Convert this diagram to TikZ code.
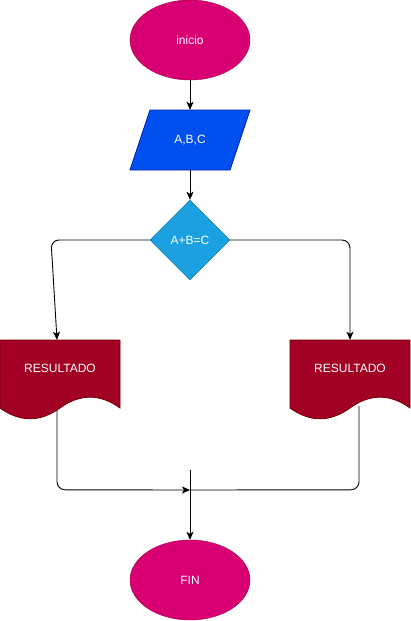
\documentclass[tikz,border=0pt]{standalone}
\usepackage{fontspec}
\setmainfont{Liberation Sans}
\usetikzlibrary{shapes.geometric,arrows.meta,calc}
\definecolor{magF}{HTML}{D80073}\definecolor{magS}{HTML}{A50040}
\definecolor{bluF}{HTML}{0050EF}\definecolor{bluS}{HTML}{001DBC}
\definecolor{cyaF}{HTML}{1BA1E2}\definecolor{cyaS}{HTML}{006EAF}
\definecolor{redF}{HTML}{A20025}\definecolor{redS}{HTML}{6F0000}
\tikzset{
  lbl/.style={text=white,font=\fontsize{12}{14}\selectfont},
  term/.style={ellipse,draw=magS,fill=magF,minimum width=120pt,minimum height=80pt,inner sep=0pt,lbl},
  dec/.style={diamond,draw=cyaS,fill=cyaF,minimum width=80pt,minimum height=80pt,inner sep=0pt,aspect=1,lbl},
  area/.style={rectangle,minimum width=100pt,minimum height=60pt,inner sep=0pt,lbl},
  docarea/.style={rectangle,minimum width=120pt,minimum height=80pt,inner sep=0pt},
  conn/.style={draw=black,line width=0.9pt},
  tip/.style={-{Stealth[length=8pt,width=7pt,inset=2pt]}}
}
\begin{document}
\begin{tikzpicture}[x=1pt,y=-1pt]
\useasboundingbox (0,0) rectangle (411,621);
% shapes
\node[term] (ini) at (190,40) {inicio};
\filldraw[fill=bluF,draw=bluS,line width=0.8pt] (150,110) -- (250,110) -- (230,170) -- (130,170) -- cycle;
\node[area] (abc) at (190,140) {A,B,C};
\node[dec] (dia) at (190,240) {A+B=C};
\foreach \x/\n in {0/d1,290/d2}{
  \begin{scope}[shift={(\x,0)}]
  \filldraw[fill=redF,draw=redS,line width=0.8pt] (0,340) -- (120,340) -- (120,408)
     .. controls (100,393.6) and (80,393.6) .. (60,408)
     .. controls (40,422.4) and (20,422.4) .. (0,408) -- cycle;
  \end{scope}
  \node[docarea] (\n) at ({\x+60},380) {};
}
\node[lbl] (t1) at (60,368) {RESULTADO};
\node[lbl] (t2) at (350,368) {RESULTADO};
\node[term] (fin) at (190,580) {FIN};
% helper points
\coordinate (l1) at (51,240);
\coordinate (l2) at ($(d1.north)+(-3,0)$);
\coordinate (r1) at (350,240);
\coordinate (b1) at ($(d1.north)+(-3,70)$);
\coordinate (b1c) at ($(d1.north)+(-3,150)$);
\coordinate (b2) at ($(d2.north)+(9,66)$);
\coordinate (b2c) at ($(d2.north)+(9,150)$);
\coordinate (j) at (190,490);
\coordinate (jt) at (190,470);
% connectors
\draw[conn,tip] (ini.south) -- (abc.north);
\draw[conn,tip] (abc.south) -- (dia.north);
\draw[conn,tip,rounded corners=8pt] (dia.west) -- (l1) -- (l2);
\draw[conn,tip,rounded corners=8pt] (dia.east) -- (r1) -- (d2.north);
\draw[conn,tip,rounded corners=8pt] (b1) -- (b1c) -- (j);
\draw[conn,rounded corners=8pt] (b2) -- (b2c) -- (j);
\draw[conn,tip] (jt) -- (fin.north);
\end{tikzpicture}
\end{document}
